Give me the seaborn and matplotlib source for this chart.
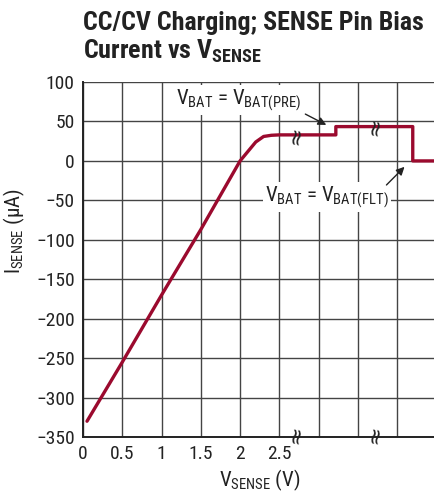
import numpy as np
import pandas as pd
import matplotlib
matplotlib.use("Agg")
import matplotlib.pyplot as plt
import seaborn as sns

# data
vsense = [0.05, 0.5, 1.0, 1.5, 2.0, 2.2, 2.3, 2.4, 2.5, 2.75, 3.22, 3.22, 4.2, 4.2, 4.5]
isense = [-330, -255, -170, -87, 0, 24, 31, 32.5, 33, 33, 33, 43.5, 43.5, 0, 0]
x_ticks = [0, 0.5, 1, 1.5, 2, 2.5]
x_grid = [0, 0.5, 1, 1.5, 2, 2.5, 3, 3.5, 4]
y_ticks = [-350, -300, -250, -200, -150, -100, -50, 0, 50, 100]
breaks_x = [2.72, 3.72]
breaks_y = [33, 43.5]

df = pd.DataFrame({"vsense": vsense, "isense": isense})

sns.set_style("white")
plt.rcParams["font.family"] = ["Roboto Condensed", "DejaVu Sans"]
plt.rcParams["mathtext.fontset"] = "custom"
plt.rcParams["mathtext.rm"] = "Roboto Condensed"
plt.rcParams["mathtext.it"] = "Roboto Condensed"
plt.rcParams["mathtext.bf"] = "Roboto Condensed:bold"
plt.rcParams["axes.unicode_minus"] = True

fig = plt.figure(figsize=(4.35, 4.93), dpi=100)
ax = fig.add_axes([0.191, 0.1136, 0.812, 0.72])

sns.lineplot(data=df, x="vsense", y="isense", sort=False, estimator=None,
             color="#9b0a2e", linewidth=2.4, ax=ax, zorder=3)

ax.set_xlim(0, 4.5)
ax.set_ylim(-350, 100)
ax.set_xticks(x_grid)
ax.set_xticklabels([str(t) if t in x_ticks else "" for t in x_grid])
ax.set_yticks(y_ticks)
ax.set_yticklabels([str(t).replace("-", "\u2212") for t in y_ticks])
ax.tick_params(length=0, labelsize=14, pad=6, colors="#222222")
ax.grid(True, color="#444444", linewidth=1.0)

for s in ["top", "right"]:
    ax.spines[s].set_visible(False)
for s in ["left", "bottom"]:
    ax.spines[s].set_color("#222222")
    ax.spines[s].set_linewidth(1.4)

ax.set_xlabel(r"V$_{\mathrm{SENSE}}$ (V)", fontsize=15, color="#222222")
ax.set_ylabel(r"I$_{\mathrm{SENSE}}$ (μA)", fontsize=15, color="#222222")
ax.xaxis.set_label_coords(0.50, -0.085)
ax.yaxis.set_label_coords(-0.16, 0.58)

# break marks on the curve and on the x axis
for bx, by in zip(breaks_x, breaks_y):
    ax.text(bx, by, "≈", rotation=80, ha="center", va="center", fontsize=16,
            family="DejaVu Sans", color="#222222", zorder=4)
    ax.text(bx, -347, "≈", rotation=80, ha="center", va="center", fontsize=16,
            family="DejaVu Sans", color="#222222", zorder=4, clip_on=False)

box = dict(boxstyle="square,pad=0.1", facecolor="white", edgecolor="none")
arrow = dict(arrowstyle="-|>", color="#222222", linewidth=1.0, mutation_scale=12)
ax.annotate(r"V$_{\mathrm{BAT}}$ = V$_{\mathrm{BAT(PRE)}}$", xy=(3.12, 44), xytext=(1.98, 77),
            ha="center", va="center", fontsize=15, color="#222222", bbox=box, zorder=5)
ax.annotate("", xy=(3.13, 44), xytext=(2.8, 61), arrowprops=arrow, zorder=5)
ax.annotate(r"V$_{\mathrm{BAT}}$ = V$_{\mathrm{BAT(FLT)}}$", xy=(4.1, -5), xytext=(3.11, -46),
            ha="center", va="center", fontsize=15, color="#222222", bbox=box, zorder=5)
ax.annotate("", xy=(4.12, -5), xytext=(3.84, -33), arrowprops=arrow, zorder=5)

fig.text(0.19, 0.978, "CC/CV Charging; SENSE Pin Bias\n" + r"Current vs V$_{\mathbf{SENSE}}$",
         ha="left", va="top", fontsize=18.7, fontweight="bold", color="#222222", linespacing=1.12)

fig.savefig("out.png", dpi=100)
